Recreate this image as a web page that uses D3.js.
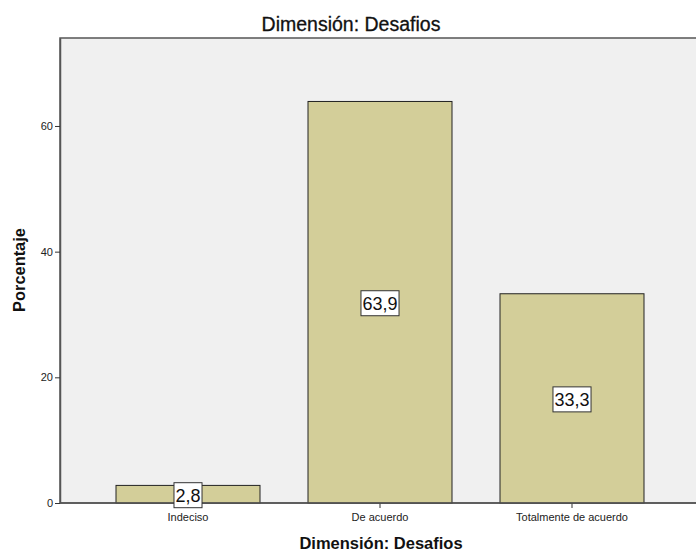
<!DOCTYPE html>
<html>
<head>
<meta charset="utf-8">
<script src="https://cdn.jsdelivr.net/npm/d3@7"></script>
<style>
  html, body { margin: 0; padding: 0; background: #fff; }
  svg { display: block; font-family: "Liberation Sans", Arial, sans-serif; }
</style>
</head>
<body>
<svg id="chart" width="696" height="553"></svg>
<script>
// Data
const categories = ["Indeciso", "De acuerdo", "Totalmente de acuerdo"];
const percentages = [2.8, 63.9, 33.3];
const yTicks = [0, 20, 40, 60];
const labels = ["2,8", "63,9", "33,3"];

const svg = d3.select("#chart");
const plot = { left: 60, top: 38, right: 702, bottom: 503 };

const x = d3.scaleBand()
  .domain(categories)
  .range([92, 668])
  .paddingInner(0.25)
  .paddingOuter(0.125);

const y = d3.scaleLinear()
  .domain([0, 74])
  .range([plot.bottom, plot.top]);

// Plot background and frame
svg.append("rect")
  .attr("x", plot.left).attr("y", plot.top)
  .attr("width", plot.right - plot.left).attr("height", plot.bottom - plot.top)
  .attr("fill", "#f0f0f0")
  .attr("stroke", "#555").attr("stroke-width", 1.5);

// Bars
svg.append("g").selectAll("rect")
  .data(categories)
  .join("rect")
  .attr("x", d => x(d))
  .attr("y", (d, i) => y(percentages[i]))
  .attr("width", x.bandwidth())
  .attr("height", (d, i) => y(0) - y(percentages[i]))
  .attr("fill", "#d3ce99")
  .attr("stroke", "#222")
  .attr("stroke-width", 1);

// Y axis
const yAxis = d3.axisLeft(y).tickValues(yTicks).tickSize(5).tickSizeOuter(0)
  .tickPadding(2).tickFormat(d3.format("d"));
const gy = svg.append("g").attr("transform", `translate(${plot.left},0)`).call(yAxis);
gy.select(".domain").attr("stroke", "#555").attr("stroke-width", 1.5);
gy.selectAll(".tick line").attr("stroke", "#333");
gy.selectAll(".tick text").attr("font-size", 11).attr("fill", "#222")
  .attr("font-family", "'Liberation Sans', Arial, sans-serif");

// X axis
const xAxis = d3.axisBottom(x).tickSize(5).tickSizeOuter(0).tickPadding(5);
const gx = svg.append("g").attr("transform", `translate(0,${plot.bottom})`).call(xAxis);
gx.select(".domain").remove();
gx.append("line").attr("x1", plot.left).attr("x2", plot.right)
  .attr("stroke", "#555").attr("stroke-width", 1.5);
gx.selectAll(".tick line").attr("stroke", "#333");
gx.selectAll(".tick text").attr("font-size", 11).attr("fill", "#222")
  .attr("font-family", "'Liberation Sans', Arial, sans-serif");

// Value labels in boxes at bar mid-height
const lbl = svg.append("g").selectAll("g")
  .data(categories)
  .join("g")
  .attr("transform", (d, i) => `translate(${x(d) + x.bandwidth() / 2},${(y(0) + y(percentages[i])) / 2 + 1})`);
lbl.append("text")
  .attr("text-anchor", "middle")
  .attr("dy", "0.36em")
  .attr("font-size", 18)
  .attr("fill", "#111")
  .text((d, i) => labels[i]);
lbl.each(function () {
  const g = d3.select(this);
  const b = g.select("text").node().getBBox();
  g.insert("rect", "text")
    .attr("x", b.x - 1.5).attr("y", -12.5)
    .attr("width", b.width + 3).attr("height", 25)
    .attr("fill", "#fff").attr("stroke", "#333").attr("stroke-width", 1);
});

// Titles
svg.append("text")
  .attr("x", 351).attr("y", 31)
  .attr("text-anchor", "middle")
  .attr("font-size", 19.5).attr("fill", "#111")
  .attr("stroke", "#111").attr("stroke-width", 0.3)
  .text("Dimensión: Desafios");

svg.append("text")
  .attr("x", 381).attr("y", 549)
  .attr("text-anchor", "middle")
  .attr("font-size", 16.5).attr("font-weight", "bold").attr("fill", "#111")
  .text("Dimensión: Desafios");

svg.append("text")
  .attr("transform", "translate(25,270) rotate(-90)")
  .attr("text-anchor", "middle")
  .attr("font-size", 16.4).attr("font-weight", "bold").attr("fill", "#111")
  .text("Porcentaje");
</script>
</body>
</html>
